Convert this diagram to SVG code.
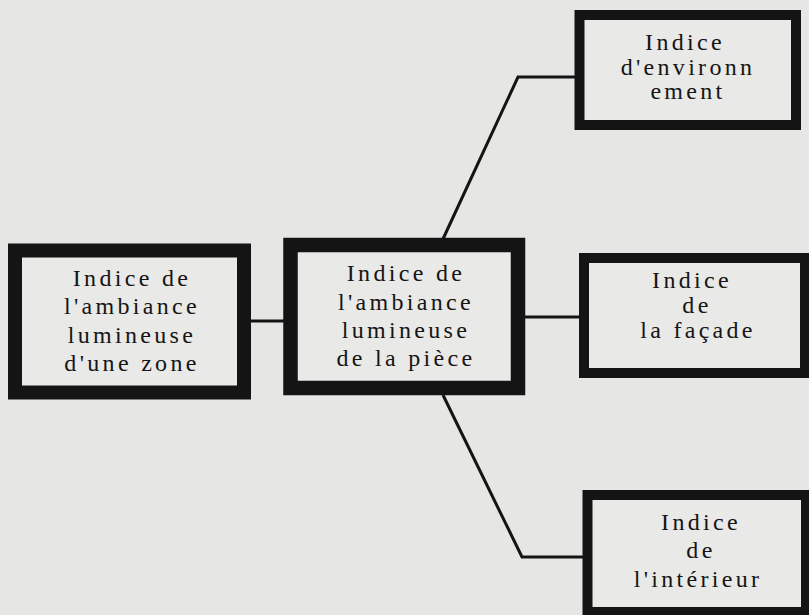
<svg xmlns="http://www.w3.org/2000/svg" width="809" height="615" viewBox="0 0 809 615">
  <style>
    .box { fill: #e9e9e7; stroke: #141414; }
    .t { font-family: "Liberation Serif", "Times New Roman", serif; font-size: 24px; letter-spacing: 3.3px; fill: #151515; text-anchor: middle; }
    .c { fill: none; stroke: #141414; stroke-width: 3; stroke-linejoin: miter; }
  </style>
  <rect x="0" y="0" width="809" height="615" fill="#e6e6e4"/>
  <g id="connectors">
    <line class="c" x1="250" y1="321" x2="284" y2="321"/>
    <line class="c" x1="524" y1="317" x2="580" y2="317"/>
    <polyline class="c" points="443,239 518,77 575,77"/>
    <polyline class="c" points="443,395 522,557 584,557"/>
  </g>
  <g id="zone">
    <rect class="box" x="15" y="250.5" width="229" height="142" stroke-width="14"/>
    <text class="t" x="132" y="286">Indice de</text>
    <text class="t" x="132" y="314">l'ambiance</text>
    <text class="t" x="132" y="343">lumineuse</text>
    <text class="t" x="132" y="371">d'une zone</text>
  </g>
  <g id="piece">
    <rect class="box" x="290.5" y="245" width="227.5" height="143" stroke-width="14.5"/>
    <text class="t" x="406" y="281">Indice de</text>
    <text class="t" x="406" y="310">l'ambiance</text>
    <text class="t" x="406" y="338">lumineuse</text>
    <text class="t" x="406" y="366">de la pièce</text>
  </g>
  <g id="environnement">
    <rect class="box" x="579.5" y="15" width="216.5" height="110" stroke-width="10"/>
    <text class="t" x="685" y="50">Indice</text>
    <text class="t" x="688" y="75">d'environn</text>
    <text class="t" x="688" y="99">ement</text>
  </g>
  <g id="facade">
    <rect class="box" x="584" y="258" width="221" height="115" stroke-width="10"/>
    <text class="t" x="692" y="288">Indice</text>
    <text class="t" x="697" y="313">de</text>
    <text class="t" x="698" y="338">la façade</text>
  </g>
  <g id="interieur">
    <rect class="box" x="587.5" y="495" width="218.5" height="117" stroke-width="10"/>
    <text class="t" x="701" y="530">Indice</text>
    <text class="t" x="701" y="558">de</text>
    <text class="t" x="698" y="587">l'intérieur</text>
  </g>
</svg>
